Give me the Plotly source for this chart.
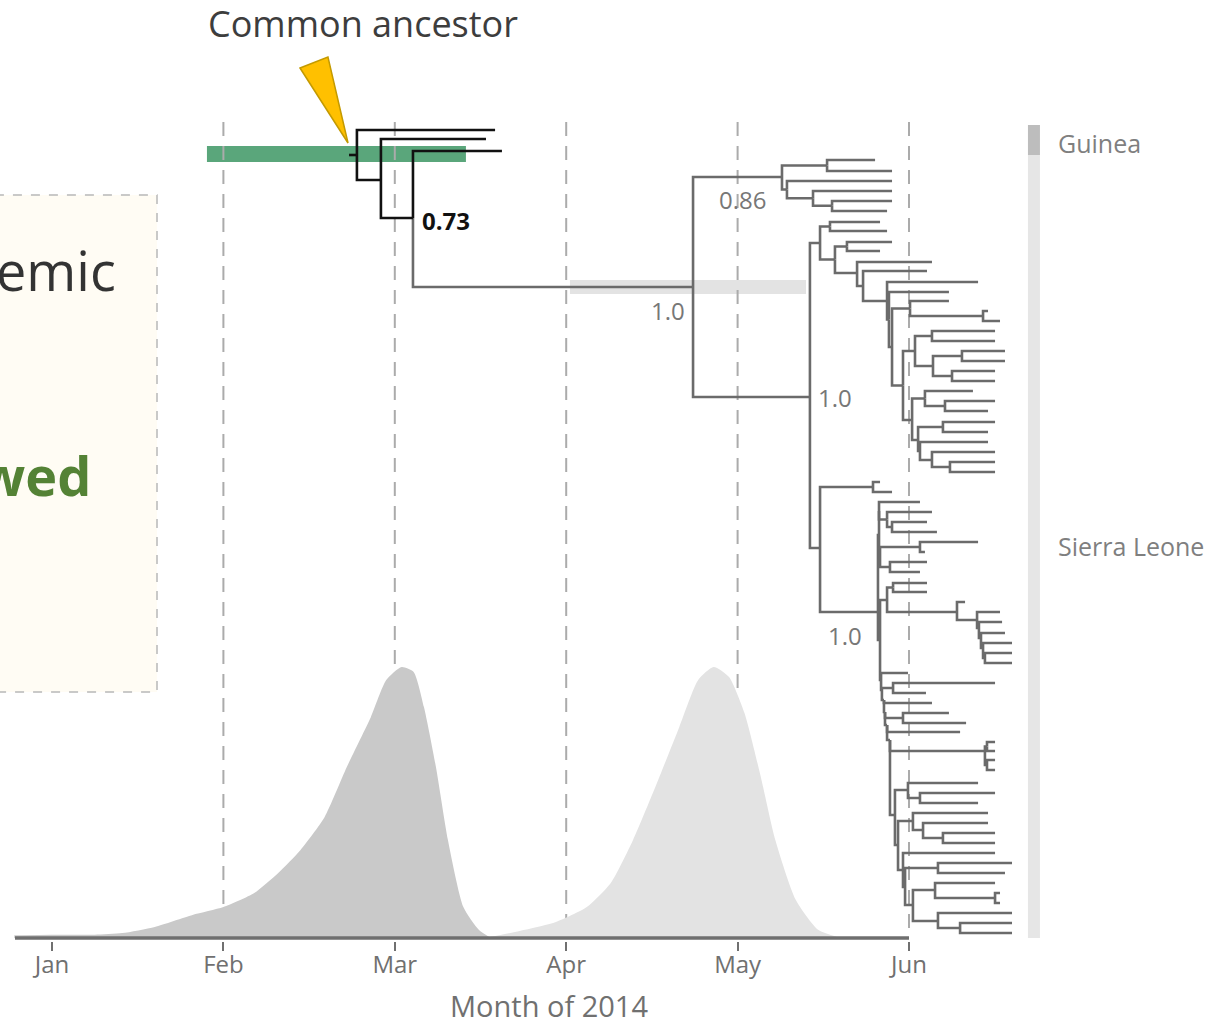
import plotly.graph_objects as go

# ---------------- axis ----------------
months = [1, 2, 3, 4, 5, 6]
month_labels = ["Jan", "Feb", "Mar", "Apr", "May", "Jun"]
grid_months = [2, 3, 4, 5, 6]

# ---------------- date densities (relative) ----------------
guinea_month = [0.78, 1.00, 1.25, 1.41, 1.60, 1.82, 2.00, 2.18, 2.32, 2.45, 2.59,
                2.72, 2.86, 2.95, 3.04, 3.11, 3.17, 3.24, 3.31, 3.40, 3.49, 3.56]
guinea_density = [0.010, 0.012, 0.012, 0.018, 0.041, 0.085, 0.114, 0.166, 0.240, 0.325, 0.446,
                  0.631, 0.815, 0.952, 1.000, 0.982, 0.852, 0.631, 0.362, 0.114, 0.030, 0.0]
sl_month = [3.53, 3.76, 3.94, 4.12, 4.26, 4.39, 4.52, 4.66, 4.77, 4.86, 4.95,
            5.04, 5.13, 5.22, 5.34, 5.47, 5.60]
sl_density = [0.0, 0.030, 0.059, 0.114, 0.203, 0.362, 0.557, 0.779, 0.952, 1.000, 0.963,
              0.830, 0.609, 0.362, 0.140, 0.030, 0.0]

# ---------------- tree: internal nodes ----------------
node_name = ["R0", "R", "N381", "N413", "SL", "A", "Ab", "Ac", "Ad", "Ae",
             "B", "C1", "C1a", "C1b", "C1c", "C1d", "C1e", "L1", "L2", "L3",
             "N910", "N983", "N903", "GA", "GA1", "GA2", "GA2a", "GA2b", "GB", "GB1",
             "GB1a", "GB2", "GB2a", "GB2b", "GB2c", "GB2d", "C2", "D1", "D2", "Su",
             "Q1", "P1", "P2", "Su2", "N920", "N890", "Sd", "M1", "N893", "N957",
             "N977", "N979", "N981", "N983b", "N985", "T1", "T2", "N893b", "T3", "T4",
             "N903b", "T5", "T6", "N985b", "N986a", "N986b", "T7", "N908", "N920b", "T8",
             "N913", "N923", "N943", "T9", "T10", "N938", "N913b", "N935", "N995", "N938b",
             "N960"]
node_parent = ["", "R0", "R", "N381", "N413", "SL", "A", "A", "Ac", "Ad",
               "SL", "B", "C1", "C1", "C1b", "C1b", "C1d", "C1e", "L1", "L2",
               "L3", "N910", "L3", "N903", "GA", "GA", "GA2", "GA2", "N903", "GB",
               "GB1", "GB", "GB2", "GB2", "GB2b", "GB2c", "B", "C2", "C2", "D2",
               "Su", "Q1", "P1", "Su", "Su2", "Su2", "D2", "Sd", "M1", "M1",
               "N957", "N977", "N979", "N981", "N983b", "Sd", "T1", "T2", "T2", "T3",
               "T4", "T4", "T5", "T6", "N985b", "N985b", "T6", "T7", "N908", "T7",
               "T8", "N913", "N923", "T8", "T9", "T10", "T10", "N913b", "N935", "N913b",
               "N938b"]
node_month = [2.733, 2.779, 2.919, 3.106, 4.740, 5.259, 5.522, 5.288, 5.440, 5.551,
              5.422, 5.481, 5.539, 5.568, 5.638, 5.697, 5.732, 5.872, 5.883, 5.901,
              6.006, 6.432, 5.965, 6.035, 6.134, 6.140, 6.309, 6.251, 6.018, 6.093,
              6.210, 6.053, 6.198, 6.064, 6.134, 6.239, 5.481, 5.790, 5.819, 5.825,
              5.825, 5.872, 5.901, 5.831, 6.064, 5.889, 5.831, 5.872, 5.907, 6.280,
              6.397, 6.408, 6.420, 6.432, 6.443, 5.837, 5.842, 5.907, 5.854, 5.860,
              5.965, 5.872, 5.889, 6.443, 6.455, 6.455, 5.918, 5.994, 6.064, 5.936,
              6.023, 6.082, 6.198, 5.965, 5.977, 6.169, 6.023, 6.152, 6.502, 6.169,
              6.298]
node_row = [15.5, 15.5, 18.0, 21.8, 28.7, 17.7, 16.55, 18.95, 19.83, 20.57,
            39.7, 24.3, 22.65, 25.95, 24.65, 27.3, 28.6, 30.1, 31.95, 34.7,
            30.85, 31.6, 38.55, 35.1, 33.6, 36.6, 35.6, 37.6, 42.0, 39.85,
            40.6, 44.0, 42.7, 45.1, 46.0, 46.7, 54.8, 48.7, 61.2, 53.5,
            51.1, 51.95, 52.7, 55.7, 54.7, 56.7, 64.0, 60.0, 58.75, 61.2,
            62.0, 62.8, 63.8, 64.8, 65.8, 68.0, 69.0, 68.8, 70.0, 71.2,
            71.8, 72.5, 74.0, 75.1, 74.65, 76.5, 81.5, 79.0, 79.8, 84.5,
            82.1, 83.0, 83.8, 87.0, 88.7, 86.8, 90.5, 89.0, 89.8, 92.1,
            92.8]

# ---------------- tree: tips ----------------
tip_parent = ["R", "N381", "N413",
              "Ab", "Ab", "Ac", "Ad", "Ae", "Ae",
              "C1a", "C1a", "C1c", "C1c", "C1d", "C1e", "L1", "L2", "N910", "N983", "N983",
              "GA1", "GA1", "GA2a", "GA2a", "GA2b", "GA2b", "GB1", "GB1a", "GB1a",
              "GB2a", "GB2a", "GB2b", "GB2c", "GB2d", "GB2d",
              "D1", "D1", "Q1", "P1", "P2", "P2", "N920", "N920", "N890", "N890",
              "N893", "N893", "N957", "N977", "N979", "N981", "N983b", "N985", "N985",
              "T1", "N893b", "N893b", "T3", "N903b", "N903b", "T5",
              "N986a", "N986a", "N986b", "N986b", "N908", "N920b", "N920b",
              "N913", "N923", "N943", "N943", "T9", "N938", "N938", "N935",
              "N995", "N995", "N938b", "N960", "N960"]
tip_month = [3.585, 3.532, 3.625,
             5.802, 5.901, 5.901, 5.901, 5.901, 5.872,
             5.831, 5.872, 5.901, 5.831, 6.134, 6.105, 6.403, 6.233, 6.233, 6.461, 6.531,
             6.502, 6.502, 6.560, 6.560, 6.502, 6.502, 6.373, 6.502, 6.461,
             6.502, 6.461, 6.461, 6.502, 6.502, 6.502,
             5.831, 5.901, 6.064, 6.134, 6.105, 6.163, 6.403, 6.093, 6.105, 6.064,
             6.105, 6.105, 6.327, 6.531, 6.543, 6.560, 6.601, 6.601, 6.601,
             5.994, 6.502, 6.099, 6.134, 6.233, 6.333, 6.298,
             6.502, 6.502, 6.502, 6.502, 6.403, 6.502, 6.403,
             6.461, 6.461, 6.502, 6.502, 6.502, 6.601, 6.560, 6.502,
             6.531, 6.531, 6.601, 6.601, 6.601]
tip_row = [13.0, 13.9, 15.1,
           16.0, 17.1, 18.1, 19.1, 20.1, 21.1,
           22.2, 23.1, 24.2, 25.1, 26.2, 27.1, 28.2, 29.2, 30.1, 31.1, 32.1,
           33.1, 34.1, 35.1, 36.1, 37.1, 38.1, 39.1, 40.1, 41.1,
           42.2, 43.2, 44.2, 45.2, 46.2, 47.2,
           48.2, 49.2, 50.2, 51.2, 52.2, 53.2, 54.2, 55.2, 56.2, 57.2,
           58.3, 59.2, 60.2, 61.2, 62.2, 63.3, 64.3, 65.3, 66.3,
           67.3, 68.3, 69.3, 70.3, 71.3, 72.3, 73.2,
           74.2, 75.1, 76.0, 77.0, 78.3, 79.3, 80.3,
           81.3, 82.3, 83.3, 84.3, 85.3, 86.3, 87.3, 88.3,
           89.3, 90.3, 91.3, 92.3, 93.3]

guinea_nodes = ["R0", "R", "N381", "N413"]

# support labels
support_text = ["<b>0.73</b>", "0.86", "1.0", "1.0", "1.0"]
support_month = [3.147, 5.031, 4.594, 5.568, 5.627]
support_row = [22.0, 19.9, 31.0, 39.7, 63.5]

# ---------------- build edges ----------------
pos = {n: (m, r) for n, m, r in zip(node_name, node_month, node_row)}
gx, gy, sx, sy = [], [], [], []


def add_edge(parent, cm, cr, black):
    pm, pr = pos[parent]
    xs, ys = (gx, gy) if black else (sx, sy)
    xs.extend([pm, pm, cm, None])
    ys.extend([pr, cr, cr, None])


for n, p, m, r in zip(node_name, node_parent, node_month, node_row):
    if p:
        add_edge(p, m, r, n in guinea_nodes)
for p, m, r in zip(tip_parent, tip_month, tip_row):
    add_edge(p, m, r, p in guinea_nodes)

X0 = 1 - 52 / 171.4
X1 = 1 + 1159 / 171.4
BASE_ROW = 93.8
GRID_TOP = 12.2

fig = go.Figure()

fig.add_trace(go.Scatter(x=guinea_month, y=guinea_density, yaxis="y2", mode="lines",
                         line=dict(width=0, shape="spline", smoothing=0.6),
                         fill="tozeroy", fillcolor="#c9c9c9", hoverinfo="skip"))
fig.add_trace(go.Scatter(x=sl_month, y=sl_density, yaxis="y2", mode="lines",
                         line=dict(width=0, shape="spline", smoothing=0.6),
                         fill="tozeroy", fillcolor="#e3e3e3", hoverinfo="skip"))

# dashed month guides
dx, dy = [], []
for m in grid_months:
    dx += [m, m, None]
    dy += [GRID_TOP, BASE_ROW, None]
fig.add_trace(go.Scatter(x=dx, y=dy, mode="lines",
                         line=dict(color="#ababab", width=2, dash="14px,10px"),
                         hoverinfo="skip"))

# baseline
fig.add_trace(go.Scatter(x=[0.784, 6.0], y=[0, 0], yaxis="y2", mode="lines",
                         line=dict(color="#6f6f6f", width=3.5), hoverinfo="skip"))

# tree
fig.add_trace(go.Scatter(x=sx, y=sy, mode="lines",
                         line=dict(color="#6b6b6b", width=2.6), hoverinfo="skip"))
fig.add_trace(go.Scatter(x=gx, y=gy, mode="lines",
                         line=dict(color="#111111", width=2.6), hoverinfo="skip"))

shapes = [
    # text box at left
    dict(type="rect", xref="x", yref="y", x0=0.667, x1=1.6126, y0=19.5, y1=69.2,
         fillcolor="#fffcf4", line=dict(color="#b8b8b8", width=1.5, dash="dash"), layer="below"),
    # green HPD bar
    dict(type="rect", xref="x", yref="y", x0=1.904, x1=3.415, y0=14.6, y1=16.2,
         fillcolor="#5aa67b", line=dict(width=0), layer="below"),
    # grey HPD bar
    dict(type="rect", xref="x", yref="y", x0=4.022, x1=5.399, y0=28.0, y1=29.4,
         fillcolor="#e3e3e3", line=dict(width=0), layer="below"),
    # country bar
    dict(type="rect", xref="x", yref="y", x0=6.694, x1=6.764, y0=12.5, y1=15.5,
         fillcolor="#bdbdbd", line=dict(width=0), layer="below"),
    dict(type="rect", xref="x", yref="y", x0=6.694, x1=6.764, y0=15.5, y1=BASE_ROW,
         fillcolor="#e6e6e6", line=dict(width=0), layer="below"),
    # yellow pointer
    dict(type="path", xref="x", yref="y", path="M 2.447,6.8 L 2.610,5.7 L 2.727,14.3 Z",
         fillcolor="#ffc000", line=dict(color="#c49a00", width=1.5), layer="above"),
]

annotations = [
    dict(x=2.815, y=2.3, xref="x", yref="y", text="Common ancestor", showarrow=False,
         font=dict(family="Open Sans", size=36, color="#3d3d3d")),
    dict(x=6.858, y=14.3, xref="x", yref="y", text="Guinea", showarrow=False, xanchor="left",
         font=dict(family="Open Sans", size=25, color="#7f7f7f")),
    dict(x=6.858, y=54.6, xref="x", yref="y", text="Sierra Leone", showarrow=False, xanchor="left",
         font=dict(family="Open Sans", size=25, color="#7f7f7f")),
    dict(x=1.385, y=27.0, xref="x", yref="y", text="emic", showarrow=False, xanchor="right",
         font=dict(family="Open Sans", size=54, color="#333333")),
    dict(x=1.239, y=47.5, xref="x", yref="y", text="<b>wed</b>", showarrow=False, xanchor="right",
         font=dict(family="Open Sans", size=54, color="#548235")),
    dict(x=3.900, y=-0.0685, xref="x", yref="paper", text="Month of 2014", showarrow=False,
         yanchor="middle",
         font=dict(family="Open Sans", size=29, color="#707070")),
]
for i, (t, m, r) in enumerate(zip(support_text, support_month, support_row)):
    annotations.append(dict(x=m, y=r, xref="x", yref="y", text=t, showarrow=False,
                            xanchor="left" if i == 0 else "center",
                            font=dict(family="Open Sans", size=24,
                                      color="#111111" if i == 0 else "#777777")))

fig.update_layout(
    width=1211, height=1025,
    margin=dict(l=0, r=0, t=0, b=84),
    paper_bgcolor="white", plot_bgcolor="white",
    showlegend=False,
    xaxis=dict(range=[X0, X1], tickvals=months, ticktext=month_labels,
               ticks="outside", ticklen=9, tickwidth=2, tickcolor="#707070",
               ticklabelstandoff=-7,
               showgrid=False, zeroline=False, showline=False,
               tickfont=dict(family="Open Sans", size=24, color="#707070")),
    yaxis=dict(range=[94.1, 0], visible=False, showgrid=False, zeroline=False),
    yaxis2=dict(range=[-3 / 271, 938 / 271], overlaying="y", visible=False,
                showgrid=False, zeroline=False),
    shapes=shapes,
    annotations=annotations,
)

fig.write_html("out.html", config={"displayModeBar": False},
               post_script="document.body.style.margin='0';")
